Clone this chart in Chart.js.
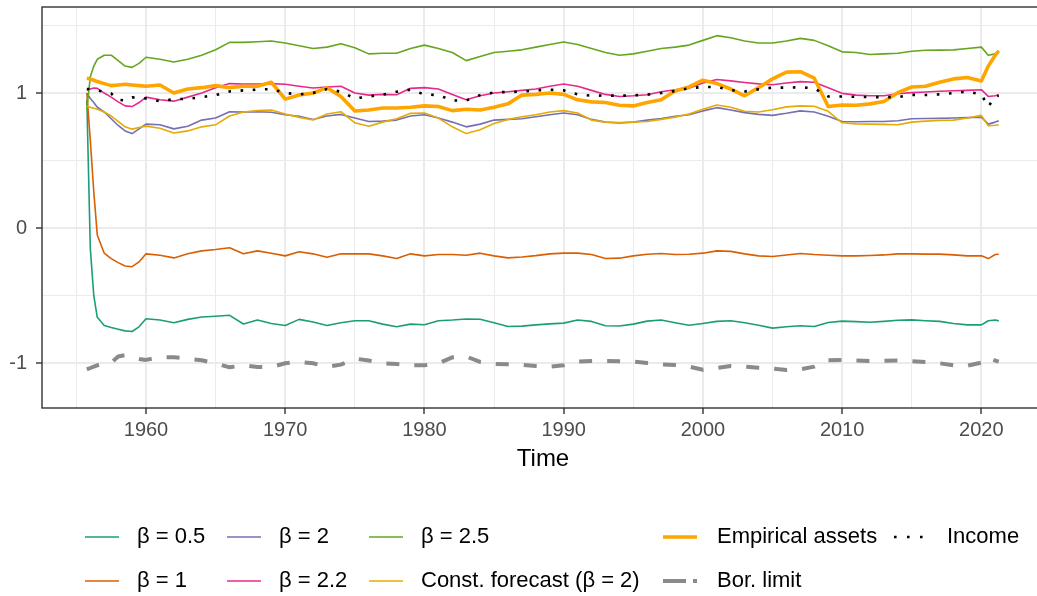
<!DOCTYPE html>
<html>
<head>
<meta charset="utf-8">
<title>Assets, income and borrowing limit over time</title>
<script src="https://cdn.jsdelivr.net/npm/chart.js@4.4.1/dist/chart.umd.min.js"></script>
<style>
  html, body { margin: 0; padding: 0; background: #ffffff; overflow: hidden; }
  #wrap { position: relative; width: 1037px; height: 596px; overflow: hidden; }
  #c { position: absolute; left: 0; top: 0; width: 1045px; height: 596px; }
  .lg-key { position: absolute; width: 34px; height: 10px; }
  .lg-text { position: absolute; font-family: "Liberation Sans", Arial, sans-serif; font-size: 22px;
             line-height: 22px; color: #000000; white-space: nowrap; }
</style>
</head>
<body>
<div id="wrap">
  <canvas id="c" width="1045" height="596"></canvas>
  <div id="legend"></div>
</div>
<script>
// Sample times (decimal years)
const years = [
  1955.75, 1956, 1956.25, 1956.5, 1957, 1957.5, 1958, 1958.5, 1959, 1959.5,
  1960, 1961, 1962, 1963, 1964, 1965, 1966, 1967, 1968, 1969,
  1970, 1971, 1972, 1973, 1974, 1975, 1976, 1977, 1978, 1979,
  1980, 1981, 1982, 1983, 1984, 1985, 1986, 1987, 1988, 1989,
  1990, 1991, 1992, 1993, 1994, 1995, 1996, 1997, 1998, 1999,
  2000, 2001, 2002, 2003, 2004, 2005, 2006, 2007, 2008, 2009,
  2010, 2011, 2012, 2013, 2014, 2015, 2016, 2017, 2018, 2019,
  2020, 2020.5, 2021, 2021.25
];

const beta05 = [
  0.95, -0.15, -0.5, -0.66, -0.72, -0.735, -0.748, -0.76, -0.765, -0.73,
  -0.67, -0.68, -0.7, -0.675, -0.658, -0.652, -0.645, -0.709, -0.68, -0.705,
  -0.72, -0.675, -0.695, -0.72, -0.7, -0.685, -0.685, -0.71, -0.73, -0.71,
  -0.715, -0.685, -0.68, -0.672, -0.674, -0.7, -0.728, -0.725, -0.716, -0.708,
  -0.703, -0.68, -0.69, -0.722, -0.724, -0.71, -0.688, -0.68, -0.7, -0.718,
  -0.705, -0.69, -0.685, -0.7, -0.718, -0.74, -0.73, -0.722, -0.728, -0.698,
  -0.688, -0.692, -0.696, -0.69, -0.682, -0.679, -0.685, -0.69, -0.705, -0.716,
  -0.716, -0.685, -0.68, -0.686
];

const beta1 = [
  1.0, 0.65, 0.27, -0.05, -0.185, -0.225, -0.255, -0.28, -0.285, -0.25,
  -0.19, -0.2, -0.22, -0.19, -0.168, -0.158, -0.145, -0.19, -0.168, -0.185,
  -0.205, -0.175, -0.19, -0.215, -0.19, -0.19, -0.19, -0.205, -0.225, -0.19,
  -0.205, -0.195, -0.195, -0.2, -0.185, -0.205, -0.22, -0.213, -0.203, -0.19,
  -0.185, -0.185, -0.195, -0.225, -0.222, -0.205, -0.193, -0.187, -0.195, -0.193,
  -0.185, -0.168, -0.172, -0.19, -0.205, -0.21, -0.198, -0.187, -0.195, -0.2,
  -0.205, -0.205, -0.202, -0.198, -0.19, -0.19, -0.192, -0.192, -0.198, -0.205,
  -0.205, -0.225, -0.195, -0.193
];

const beta2 = [
  1.0, 0.96, 0.93, 0.895, 0.86, 0.81, 0.76, 0.72, 0.70, 0.735,
  0.77, 0.765, 0.735, 0.755, 0.8, 0.815, 0.862, 0.86, 0.862, 0.858,
  0.84, 0.828, 0.805, 0.83, 0.842, 0.815, 0.79, 0.792, 0.8, 0.83,
  0.84, 0.815, 0.785, 0.75, 0.77, 0.8, 0.805, 0.81, 0.825, 0.84,
  0.852, 0.84, 0.805, 0.785, 0.778, 0.785, 0.8, 0.812, 0.828, 0.84,
  0.868, 0.892, 0.875, 0.855, 0.842, 0.835, 0.85, 0.868, 0.86, 0.828,
  0.79, 0.788, 0.79, 0.79, 0.795, 0.81, 0.812, 0.813, 0.815, 0.818,
  0.822, 0.77, 0.785, 0.795
];

const beta22 = [
  1.02, 1.03, 1.037, 1.035, 1.0, 0.97, 0.935, 0.905, 0.9, 0.93,
  0.97, 0.95, 0.94, 0.97, 1.0, 1.04, 1.07, 1.067, 1.067, 1.07,
  1.065, 1.05, 1.037, 1.045, 1.05, 1.0, 0.985, 0.99, 0.988, 1.035,
  1.04, 1.03, 0.99, 0.95, 0.98, 1.0, 1.01, 1.02, 1.03, 1.05,
  1.067, 1.05, 1.02, 0.99, 0.975, 0.98, 0.988, 1.01, 1.025, 1.035,
  1.075, 1.1, 1.09, 1.078, 1.068, 1.062, 1.075, 1.085, 1.08, 1.04,
  0.998, 0.985, 0.98, 0.98, 0.995, 1.003, 1.008, 1.013, 1.017, 1.02,
  1.025, 0.975, 0.98, 0.988
];

const beta25 = [
  0.88, 1.12, 1.2, 1.25, 1.28, 1.28, 1.24, 1.2, 1.19, 1.22,
  1.265, 1.25, 1.23, 1.25, 1.28, 1.32, 1.375, 1.375, 1.38, 1.385,
  1.37, 1.35, 1.33, 1.34, 1.365, 1.335, 1.29, 1.295, 1.295, 1.33,
  1.355, 1.33, 1.3, 1.24, 1.27, 1.3, 1.31, 1.32, 1.34, 1.36,
  1.378, 1.36, 1.33, 1.3, 1.28, 1.29, 1.31, 1.33, 1.34, 1.355,
  1.39, 1.425, 1.41, 1.385, 1.37, 1.37, 1.385, 1.405, 1.39, 1.35,
  1.305, 1.3, 1.285, 1.29, 1.295, 1.31, 1.317, 1.318, 1.32, 1.33,
  1.34, 1.28, 1.29, 1.31
];

const constForecast = [
  0.90, 0.895, 0.888, 0.88, 0.86, 0.83, 0.79, 0.75, 0.733, 0.745,
  0.755, 0.74, 0.705, 0.72, 0.75, 0.765, 0.83, 0.86, 0.87, 0.875,
  0.845, 0.82, 0.8, 0.845, 0.862, 0.78, 0.755, 0.785, 0.81, 0.85,
  0.852, 0.815, 0.75, 0.7, 0.728, 0.775, 0.805, 0.825, 0.84, 0.86,
  0.87, 0.852, 0.8, 0.785, 0.782, 0.785, 0.79, 0.805, 0.822, 0.845,
  0.88, 0.912, 0.895, 0.865, 0.86, 0.877, 0.898, 0.905, 0.902, 0.865,
  0.78, 0.772, 0.77, 0.768, 0.765, 0.785, 0.792, 0.797, 0.8, 0.815,
  0.835, 0.758, 0.762, 0.765
];

const empiricalAssets = [
  1.11, 1.105, 1.095, 1.085, 1.07, 1.055, 1.06, 1.065, 1.06, 1.055,
  1.05, 1.06, 1.0, 1.03, 1.04, 1.055, 1.04, 1.05, 1.05, 1.08,
  0.955, 0.985, 1.0, 1.04, 0.975, 0.867, 0.875, 0.89, 0.89, 0.895,
  0.905, 0.9, 0.87, 0.88, 0.875, 0.895, 0.92, 0.985, 0.99, 1.0,
  0.99, 0.95, 0.935, 0.93, 0.91, 0.905, 0.93, 0.95, 1.015, 1.045,
  1.095, 1.07, 1.03, 0.98, 1.04, 1.105, 1.155, 1.158, 1.11, 0.9,
  0.912, 0.91, 0.92, 0.938, 1.003, 1.045, 1.05, 1.08, 1.105, 1.115,
  1.09, 1.2, 1.28, 1.313
];

const income = [
  1.03, 1.03, 1.025, 1.02, 1.01, 0.997, 0.95, 0.945, 0.968, 0.965,
  0.96, 0.94, 0.955, 0.957, 0.97, 0.985, 1.012, 1.02, 1.025, 1.03,
  1.0, 0.99, 1.0, 1.03, 1.01, 0.96, 0.975, 0.988, 1.01, 1.025,
  0.99, 0.985, 0.945, 0.945, 0.985, 1.005, 1.008, 1.01, 1.02, 1.025,
  1.02, 0.99, 0.98, 0.982, 0.98, 0.983, 0.988, 1.0, 1.015, 1.035,
  1.045, 1.045, 1.022, 1.012, 1.028, 1.04, 1.04, 1.043, 1.035, 0.975,
  0.975, 0.972, 0.97, 0.97, 0.97, 0.987, 0.986, 0.99, 1.0, 1.01,
  0.99, 0.9, 0.975, 0.98
];

const borLimit = [
  -1.045, -1.035, -1.025, -1.015, -1.005, -0.995, -0.95, -0.94, -0.955, -0.968,
  -0.975, -0.955, -0.955, -0.965, -0.978, -1.0, -1.03, -1.015, -1.028, -1.028,
  -1.0, -0.99, -1.0, -1.025, -1.01, -0.965, -0.98, -1.0, -1.005, -1.015,
  -1.015, -1.0, -0.956, -0.95, -0.99, -1.005, -1.008, -1.012, -1.02, -1.025,
  -1.015, -0.988, -0.983, -0.983, -0.985, -0.988, -0.998, -1.008, -1.012, -1.025,
  -1.048, -1.035, -1.02, -1.025, -1.033, -1.04, -1.05, -1.045, -1.025, -0.978,
  -0.975, -0.98, -0.983, -0.982, -0.98, -0.985, -0.99, -1.0, -1.015, -1.018,
  -0.995, -0.955, -0.98, -0.988
];

// Axis ticks: grid every 5 years / 0.5 units, labels on the major ones
const xTicks = [1955, 1960, 1965, 1970, 1975, 1980, 1985, 1990, 1995, 2000, 2005, 2010, 2015, 2020];
const xTickLabels = [1960, 1970, 1980, 1990, 2000, 2010, 2020];
const yTicks = [-1, -0.5, 0, 0.5, 1, 1.5];
const yTickLabels = [-1, 0, 1];

const FONT = '"Liberation Sans", Arial, sans-serif';

// Series definitions: data, colour, line style and legend slot (row, column)
const series = [
  { label: 'β = 0.5', data: beta05, color: '#1B9E77', width: 1.6, dash: [], order: 8, row: 0, col: 0 },
  { label: 'β = 1', data: beta1, color: '#D95F02', width: 1.6, dash: [], order: 7, row: 1, col: 0 },
  { label: 'β = 2', data: beta2, color: '#7570B3', width: 1.6, dash: [], order: 6, row: 0, col: 1 },
  { label: 'β = 2.2', data: beta22, color: '#E7298A', width: 1.6, dash: [], order: 5, row: 1, col: 1 },
  { label: 'β = 2.5', data: beta25, color: '#66A61E', width: 1.6, dash: [], order: 4, row: 0, col: 2 },
  { label: 'Const. forecast (β = 2)', data: constForecast, color: '#E6AB02', width: 1.6, dash: [], order: 3, row: 1, col: 2 },
  { label: 'Empirical assets', data: empiricalAssets, color: '#FFA500', width: 3.6, dash: [], order: 1, row: 0, col: 3 },
  { label: 'Bor. limit', data: borLimit, color: '#8A8A8A', width: 4, dash: [13, 15], order: 2, row: 1, col: 3 },
  { label: 'Income', data: income, color: '#000000', width: 2.6, dash: [2.6, 9.6], order: 0, row: 0, col: 4 }
];

const datasets = series.map(s => ({
  label: s.label,
  data: years.map((x, i) => ({ x: x, y: s.data[i] })),
  borderColor: s.color,
  backgroundColor: s.color,
  borderWidth: s.width,
  borderDash: s.dash,
  borderCapStyle: 'butt',
  borderJoinStyle: 'round',
  pointRadius: 0,
  tension: 0,
  fill: false,
  order: s.order
}));

// Panel frame drawn over the plotted lines
const panelFrame = {
  id: 'panelFrame',
  afterDatasetsDraw(chart) {
    const { ctx, chartArea: a } = chart;
    ctx.save();
    ctx.strokeStyle = '#333333';
    ctx.lineWidth = 1.4;
    ctx.strokeRect(a.left, a.top, a.right - a.left, a.bottom - a.top);
    ctx.restore();
  }
};

new Chart(document.getElementById('c'), {
  type: 'line',
  data: { datasets: datasets },
  plugins: [panelFrame],
  options: {
    responsive: false,
    devicePixelRatio: 1,
    animation: false,
    events: [],
    layout: { padding: { left: 0, top: 7, right: 1, bottom: 118 } },
    plugins: { legend: { display: false }, tooltip: { enabled: false } },
    scales: {
      x: {
        type: 'linear',
        min: 1952.53,
        max: 2024.5,
        afterBuildTicks: s => { s.ticks = xTicks.map(v => ({ value: v })); },
        afterFit: s => { s.height = 70; s.paddingLeft = 0; s.paddingRight = 0; },
        border: { display: false },
        grid: {
          color: '#EBEBEB',
          lineWidth: c => (c.tick && xTickLabels.includes(c.tick.value)) ? 2 : 1,
          drawTicks: true,
          tickLength: 6,
          tickWidth: 1.4,
          tickColor: c => (c.tick && xTickLabels.includes(c.tick.value)) ? '#333333' : 'rgba(0,0,0,0)'
        },
        ticks: {
          autoSkip: false,
          maxRotation: 0,
          padding: 4,
          color: '#4D4D4D',
          font: { family: FONT, size: 20 },
          callback: v => xTickLabels.includes(v) ? String(v) : ''
        },
        title: {
          display: true,
          text: 'Time',
          color: '#000000',
          font: { family: FONT, size: 24 },
          padding: { top: 0, bottom: 4 }
        }
      },
      y: {
        type: 'linear',
        min: -1.331,
        max: 1.637,
        afterBuildTicks: s => { s.ticks = yTicks.map(v => ({ value: v })); },
        afterFit: s => { s.width = 42; s.paddingTop = 0; s.paddingBottom = 0; },
        border: { display: false },
        grid: {
          color: '#EBEBEB',
          lineWidth: c => (c.tick && yTickLabels.includes(c.tick.value)) ? 2 : 1,
          drawTicks: true,
          tickLength: 6,
          tickWidth: 1.4,
          tickColor: c => (c.tick && yTickLabels.includes(c.tick.value)) ? '#333333' : 'rgba(0,0,0,0)'
        },
        ticks: {
          autoSkip: false,
          padding: 9,
          color: '#4D4D4D',
          font: { family: FONT, size: 20 },
          callback: v => yTickLabels.includes(v) ? String(v) : ''
        }
      }
    }
  }
});

// Legend below the panel, two rows
const legendColX = [85, 227, 369, 663, 893];
const legendRowY = [537, 581];
const legendEl = document.getElementById('legend');
series.forEach(s => {
  const kx = legendColX[s.col];
  const ky = legendRowY[s.row];
  const svgNS = 'http://www.w3.org/2000/svg';
  const svg = document.createElementNS(svgNS, 'svg');
  svg.setAttribute('class', 'lg-key');
  svg.setAttribute('width', '34');
  svg.setAttribute('height', '10');
  svg.style.left = kx + 'px';
  svg.style.top = (ky - 5) + 'px';
  const ln = document.createElementNS(svgNS, 'line');
  ln.setAttribute('x1', '0');
  ln.setAttribute('x2', '34');
  ln.setAttribute('y1', '5');
  ln.setAttribute('y2', '5');
  ln.setAttribute('stroke', s.color);
  ln.setAttribute('stroke-width', String(s.width));
  if (s.label === 'Income') {
    ln.setAttribute('stroke-dasharray', '2.6 10.4');
    ln.setAttribute('stroke-dashoffset', '-1');
  } else if (s.label === 'Bor. limit') {
    ln.setAttribute('stroke-dasharray', '23 7');
  }
  svg.appendChild(ln);
  legendEl.appendChild(svg);

  const t = document.createElement('div');
  t.className = 'lg-text';
  t.textContent = s.label;
  t.style.left = (kx + (s.col >= 3 ? 54 : 52)) + 'px';
  t.style.top = (ky - 12) + 'px';
  legendEl.appendChild(t);
});
</script>
</body>
</html>
